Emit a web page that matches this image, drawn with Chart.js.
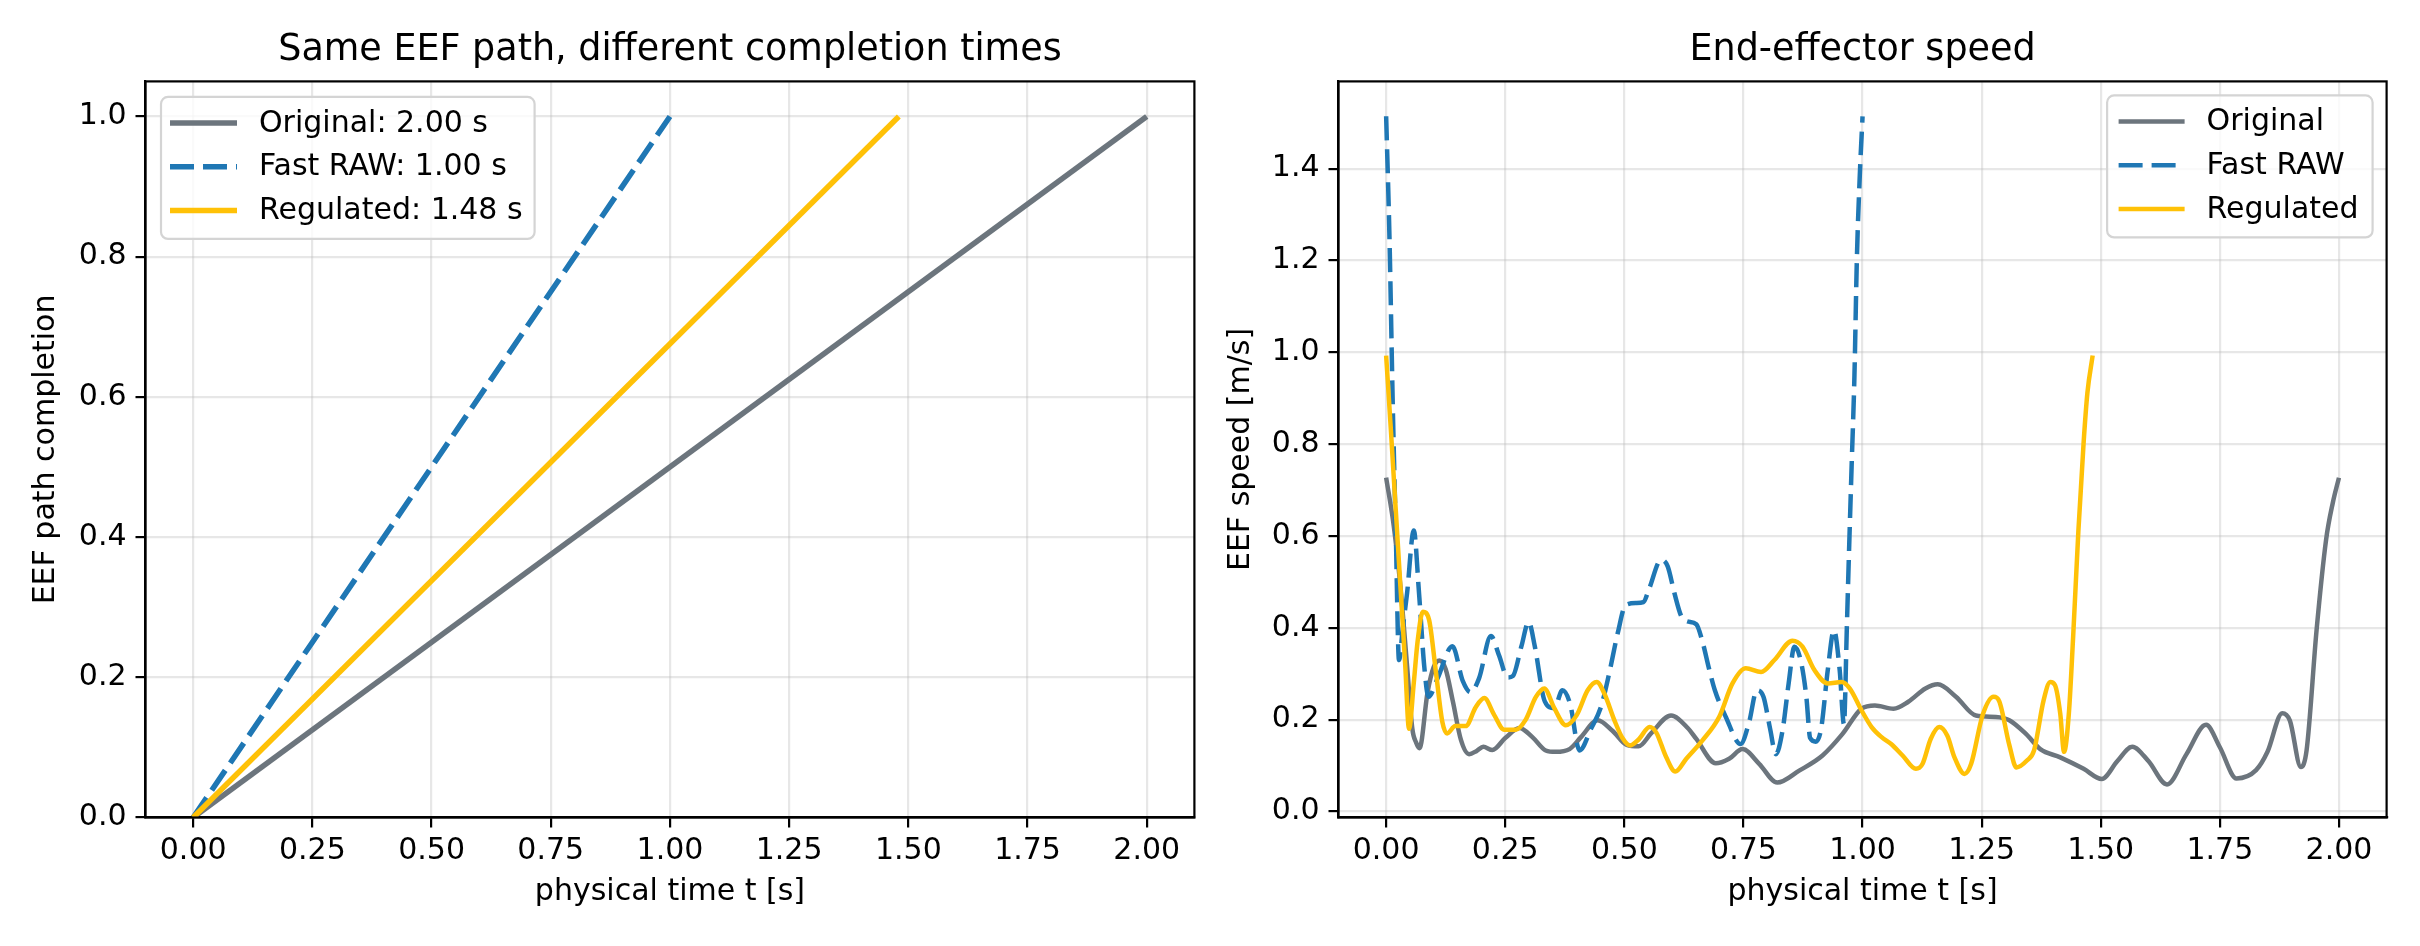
<!DOCTYPE html>
<html>
<head>
<meta charset="utf-8">
<title>EEF path and speed</title>
<script src="https://cdn.jsdelivr.net/npm/chart.js@4.4.1/dist/chart.umd.min.js"></script>
<style>
  html, body { margin: 0; padding: 0; background: #fff; }
  .row { display: flex; width: 2420px; height: 946px; }
  .panel { width: 1210px; height: 946px; }
</style>
</head>
<body>
<div class="row">
  <div class="panel"><canvas id="chart-path" width="1210" height="946"></canvas></div>
  <div class="panel"><canvas id="chart-speed" width="1210" height="946"></canvas></div>
</div>
<script>
// --- data -------------------------------------------------------------
const SERIES_NAMES = ['Original', 'Fast RAW', 'Regulated'];
const COMPLETION_TIMES = [2.00, 1.00, 1.48];
const PATH_PROGRESS = [0, 1];

const TIME_TICKS = [0, 0.25, 0.5, 0.75, 1.0, 1.25, 1.5, 1.75, 2.0];
const PATH_TICKS = [0, 0.2, 0.4, 0.6, 0.8, 1.0];
const SPEED_TICKS = [0, 0.2, 0.4, 0.6, 0.8, 1.0, 1.2, 1.4];

const originalT = [0.000, 0.016, 0.030, 0.044, 0.055, 0.063, 0.070, 0.087, 0.100, 0.112, 0.125, 0.140,
  0.157, 0.174, 0.190, 0.204, 0.223, 0.250, 0.280, 0.307, 0.335, 0.356, 0.385, 0.409, 0.444, 0.475,
  0.505, 0.530, 0.556, 0.598, 0.633, 0.651, 0.692, 0.720, 0.748, 0.783, 0.821, 0.867, 0.916, 0.958,
  0.998, 1.026, 1.065, 1.096, 1.132, 1.158, 1.196, 1.238, 1.280, 1.308, 1.343, 1.373, 1.415, 1.464,
  1.502, 1.535, 1.566, 1.600, 1.639, 1.680, 1.721, 1.750, 1.785, 1.826, 1.850, 1.881, 1.897, 1.920,
  1.932, 1.953, 1.973, 1.987, 2.000];
const originalSpeed = [0.727, 0.622, 0.490, 0.316, 0.180, 0.150, 0.138, 0.260, 0.315, 0.329, 0.310, 0.240,
  0.156, 0.125, 0.132, 0.141, 0.134, 0.160, 0.182, 0.162, 0.133, 0.130, 0.136, 0.162, 0.199, 0.176,
  0.145, 0.142, 0.170, 0.209, 0.182, 0.158, 0.105, 0.115, 0.136, 0.104, 0.063, 0.089, 0.122, 0.169,
  0.224, 0.231, 0.224, 0.239, 0.268, 0.277, 0.250, 0.209, 0.206, 0.199, 0.169, 0.136, 0.118, 0.093,
  0.071, 0.110, 0.141, 0.110, 0.059, 0.125, 0.189, 0.140, 0.072, 0.090, 0.130, 0.214, 0.198, 0.097,
  0.133, 0.395, 0.592, 0.672, 0.727];

const fastT = [0.000, 0.007, 0.014, 0.020, 0.027, 0.035, 0.044, 0.058, 0.069, 0.080, 0.089, 0.108,
  0.139, 0.161, 0.177, 0.195, 0.220, 0.237, 0.255, 0.266, 0.284, 0.299, 0.312, 0.333, 0.353, 0.370,
  0.386, 0.406, 0.430, 0.451, 0.468, 0.486, 0.503, 0.525, 0.540, 0.552, 0.577, 0.591, 0.605, 0.620,
  0.632, 0.651, 0.664, 0.678, 0.690, 0.713, 0.744, 0.762, 0.778, 0.792, 0.806, 0.818, 0.832, 0.845,
  0.857, 0.870, 0.882, 0.890, 0.902, 0.913, 0.927, 0.940, 0.952, 0.961, 0.967, 0.972, 0.977, 0.983,
  0.988, 0.994, 1.000];
const fastSpeed = [1.514, 1.250, 0.880, 0.620, 0.330, 0.400, 0.476, 0.612, 0.476, 0.316, 0.250, 0.290,
  0.360, 0.284, 0.260, 0.290, 0.382, 0.340, 0.292, 0.295, 0.360, 0.413, 0.360, 0.240, 0.225, 0.264,
  0.235, 0.133, 0.180, 0.228, 0.300, 0.388, 0.450, 0.454, 0.456, 0.485, 0.548, 0.534, 0.476, 0.424,
  0.414, 0.408, 0.370, 0.310, 0.264, 0.206, 0.147, 0.195, 0.264, 0.250, 0.180, 0.125, 0.176, 0.280,
  0.359, 0.330, 0.250, 0.160, 0.152, 0.180, 0.308, 0.395, 0.308, 0.190, 0.400, 0.580, 0.750, 0.950,
  1.200, 1.380, 1.514];

const regulatedT = [0.000, 0.010, 0.020, 0.030, 0.040, 0.048, 0.058, 0.066, 0.077, 0.090, 0.104, 0.118,
  0.128, 0.145, 0.167, 0.188, 0.206, 0.227, 0.248, 0.272, 0.293, 0.314, 0.332, 0.353, 0.377, 0.400,
  0.423, 0.442, 0.458, 0.479, 0.496, 0.512, 0.531, 0.553, 0.567, 0.588, 0.607, 0.630, 0.664, 0.699,
  0.727, 0.755, 0.787, 0.815, 0.853, 0.874, 0.899, 0.927, 0.956, 0.973, 0.998, 1.019, 1.040, 1.060,
  1.084, 1.112, 1.126, 1.143, 1.161, 1.178, 1.193, 1.214, 1.228, 1.252, 1.275, 1.287, 1.308, 1.323,
  1.345, 1.360, 1.380, 1.394, 1.404, 1.415, 1.423, 1.433, 1.442, 1.453, 1.464, 1.472, 1.483];
const regulatedSpeed = [0.993, 0.830, 0.660, 0.490, 0.320, 0.180, 0.280, 0.370, 0.435, 0.418, 0.308, 0.195,
  0.170, 0.186, 0.186, 0.227, 0.247, 0.210, 0.178, 0.178, 0.200, 0.249, 0.268, 0.225, 0.188, 0.210,
  0.264, 0.282, 0.257, 0.199, 0.160, 0.144, 0.158, 0.184, 0.172, 0.118, 0.087, 0.115, 0.155, 0.206,
  0.279, 0.312, 0.304, 0.330, 0.372, 0.359, 0.308, 0.279, 0.282, 0.268, 0.220, 0.184, 0.162, 0.147,
  0.122, 0.093, 0.104, 0.158, 0.184, 0.165, 0.118, 0.082, 0.104, 0.210, 0.250, 0.240, 0.145, 0.096,
  0.111, 0.133, 0.242, 0.282, 0.275, 0.213, 0.130, 0.213, 0.380, 0.610, 0.803, 0.912, 0.993];

// --- styling ----------------------------------------------------------
const COLORS = ['#6c757d', '#1f77b4', '#ffc107'];
const DASHES = [[], [24, 9], []];
const GRID = 'rgba(176,176,176,0.3)';
const FONT_SIZE = 30;

Chart.defaults.font.family = '"DejaVu Sans", sans-serif';
Chart.defaults.color = '#000';

function toPoints(xs, ys) {
  return xs.map((x, i) => ({ x, y: ys[i] }));
}

function axis({ min, max, tickValues, digits, label, isY, thickness, titlePad }) {
  return {
    type: 'linear',
    min,
    max,
    afterBuildTicks: (scale) => { scale.ticks = tickValues.map((value) => ({ value })); },
    afterFit: (scale) => {
      if (isY) scale.width = thickness; else scale.height = thickness;
      scale.paddingTop = 0; scale.paddingBottom = 0;
      scale.paddingLeft = 0; scale.paddingRight = 0;
    },
    grid: { color: GRID, lineWidth: 2.2, tickColor: '#000', tickWidth: 2.2, tickLength: 10 },
    border: { display: true, color: '#000', width: 2.2 },
    ticks: {
      autoSkip: false,
      maxRotation: 0,
      padding: isY ? 9 : 6,
      color: '#000',
      font: { size: FONT_SIZE },
      callback: (v) => Number(v).toFixed(digits),
    },
    title: {
      display: true,
      text: label,
      color: '#000',
      font: { size: FONT_SIZE },
      padding: isY ? { top: titlePad, bottom: 0 } : { top: 0, bottom: titlePad },
    },
  };
}

// black box round the plot area, like a matplotlib axes frame
const frame = {
  id: 'frame',
  afterDatasetsDraw(chart) {
    const { ctx, chartArea: a } = chart;
    ctx.save();
    ctx.strokeStyle = '#000';
    ctx.lineWidth = 2.2;
    ctx.strokeRect(a.left, a.top, a.right - a.left, a.bottom - a.top);
    ctx.restore();
  },
};

// legend drawn inside the plot area
const insetLegend = {
  id: 'insetLegend',
  afterDraw(chart, args, opts) {
    const { ctx, chartArea: a } = chart;
    const sets = chart.data.datasets;
    ctx.save();
    ctx.font = `${FONT_SIZE}px "DejaVu Sans", sans-serif`;
    const textW = Math.max(...sets.map((d) => ctx.measureText(d.label).width));
    const w = opts.padLeft + opts.handle + opts.gap + textW + opts.padRight;
    const h = opts.height;
    const x = opts.corner === 'left' ? a.left + opts.inset : a.right - opts.inset - w;
    const y = a.top + opts.inset;

    ctx.beginPath();
    ctx.roundRect(x, y, w, h, 7);
    ctx.fillStyle = 'rgba(255,255,255,0.8)';
    ctx.fill();
    ctx.strokeStyle = '#d4d4d4';
    ctx.lineWidth = 2.2;
    ctx.stroke();

    sets.forEach((d, i) => {
      const cy = y + opts.firstRow + i * opts.rowGap;
      ctx.beginPath();
      ctx.setLineDash(d.borderDash || []);
      ctx.strokeStyle = d.borderColor;
      ctx.lineWidth = d.borderWidth;
      ctx.moveTo(x + opts.padLeft, cy);
      ctx.lineTo(x + opts.padLeft + opts.handle, cy);
      ctx.stroke();
      ctx.setLineDash([]);
      ctx.fillStyle = '#000';
      ctx.textBaseline = 'middle';
      ctx.textAlign = 'left';
      ctx.fillText(d.label, x + opts.padLeft + opts.handle + opts.gap, cy + 1);
    });
    ctx.restore();
  },
};

function titleOptions(text) {
  return {
    display: true,
    text,
    fullSize: false,
    color: '#000',
    font: { size: 36.5, weight: 'normal' },
    padding: { top: 29.1, bottom: 8.5 },
  };
}

// --- left: path completion --------------------------------------------
function renderPathChart(canvas) {
  const datasets = SERIES_NAMES.map((name, i) => ({
    label: `${name}: ${COMPLETION_TIMES[i].toFixed(2)} s`,
    data: toPoints(PATH_PROGRESS.map((p) => p * COMPLETION_TIMES[i]), PATH_PROGRESS),
    borderColor: COLORS[i],
    borderDash: DASHES[i],
    borderWidth: 5.5,
    pointRadius: 0,
    order: SERIES_NAMES.length - i,
  }));

  return new Chart(canvas, {
    type: 'line',
    data: { datasets },
    plugins: [frame, insetLegend],
    options: {
      responsive: false,
      animation: false,
      events: [],
      layout: { padding: { left: 0, right: 15.6, top: 0, bottom: 0 } },
      scales: {
        x: axis({ min: -0.1, max: 2.1, tickValues: TIME_TICKS, digits: 2, label: 'physical time t [s]', isY: false, thickness: 128.5, titlePad: 35.4 }),
        y: axis({ min: 0, max: 1.05, tickValues: PATH_TICKS, digits: 1, label: 'EEF path completion', isY: true, thickness: 145.5, titlePad: 28.5 }),
      },
      plugins: {
        legend: { display: false },
        tooltip: { enabled: false },
        title: titleOptions('Same EEF path, different completion times'),
        insetLegend: { corner: 'left', inset: 15.5, padLeft: 9, handle: 67, gap: 22, padRight: 12, height: 142, firstRow: 26, rowGap: 43.8 },
      },
    },
  });
}

// --- right: end-effector speed -----------------------------------------
function renderSpeedChart(canvas) {
  const series = [
    toPoints(originalT, originalSpeed),
    toPoints(fastT, fastSpeed),
    toPoints(regulatedT, regulatedSpeed),
  ];
  const datasets = SERIES_NAMES.map((name, i) => ({
    label: name,
    data: series[i],
    borderColor: COLORS[i],
    borderDash: DASHES[i],
    borderWidth: 4.5,
    borderCapStyle: 'butt',
    borderJoinStyle: 'round',
    pointRadius: 0,
    cubicInterpolationMode: 'monotone',
    order: SERIES_NAMES.length - i,
  }));

  return new Chart(canvas, {
    type: 'line',
    data: { datasets },
    plugins: [frame, insetLegend],
    options: {
      responsive: false,
      animation: false,
      events: [],
      layout: { padding: { left: 0, right: 33.4, top: 0, bottom: 0 } },
      scales: {
        x: axis({ min: -0.1, max: 2.1, tickValues: TIME_TICKS, digits: 2, label: 'physical time t [s]', isY: false, thickness: 128.5, titlePad: 35.4 }),
        y: axis({ min: -0.013, max: 1.59, tickValues: SPEED_TICKS, digits: 1, label: 'EEF speed [m/s]', isY: true, thickness: 128.5, titlePad: 13.5 }),
      },
      plugins: {
        legend: { display: false },
        tooltip: { enabled: false },
        title: titleOptions('End-effector speed'),
        insetLegend: { corner: 'right', inset: 14, padLeft: 11.5, handle: 66, gap: 22, padRight: 14, height: 142, firstRow: 26, rowGap: 43.8 },
      },
    },
  });
}

renderPathChart(document.getElementById('chart-path'));
renderSpeedChart(document.getElementById('chart-speed'));
</script>
</body>
</html>
